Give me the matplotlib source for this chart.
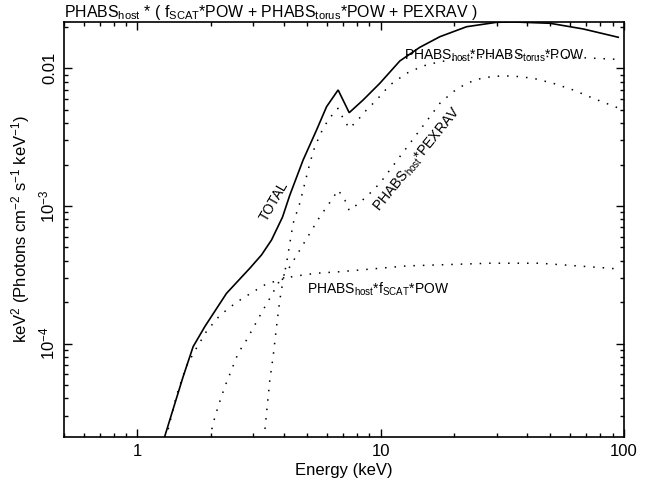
import matplotlib
matplotlib.use("Agg")
import matplotlib.pyplot as plt
from matplotlib.ticker import FuncFormatter, LogLocator

plt.rcParams["font.family"] = ["Liberation Sans", "DejaVu Sans"]
plt.rcParams["mathtext.fontset"] = "custom"
plt.rcParams["mathtext.rm"] = "Liberation Sans"
plt.rcParams["mathtext.it"] = "Liberation Sans:italic"
plt.rcParams["mathtext.bf"] = "Liberation Sans:bold"

# model components, E in keV, nuFnu in keV^2 (Photons cm^-2 s^-1 keV^-1)
total_e = [1.287, 1.541, 1.694, 1.892, 2.324, 2.898, 3.238, 3.559, 3.95, 4.234, 4.803,
           5.453, 5.996, 6.69, 7.43, 8.48, 9.93, 12.0, 14.5, 17.54, 22.59, 30.02,
           35.13, 49.75, 68.2, 95.0]
total_f = [2.05e-5, 5.76e-5, 9.51e-5, 1.33e-4, 2.32e-4, 3.53e-4, 4.41e-4, 5.66e-4, 8.3e-4,
           1.2e-3, 2.16e-3, 3.56e-3, 5.26e-3, 6.96e-3, 4.76e-3, 5.89e-3, 7.78e-3, 1.13e-2,
           1.42e-2, 1.696e-2, 2.004e-2, 2.158e-2, 2.17e-2, 2.123e-2, 1.93e-2, 1.68e-2]

torus_e = [3.319, 3.395, 3.503, 3.614, 3.733, 3.851, 3.974, 4.104, 4.234, 4.369, 4.655,
           4.88, 5.117, 5.366, 5.717, 6.085, 6.486, 6.69, 7.016, 7.43, 7.966, 8.618,
           9.627, 10.92, 12.79, 14.97, 17.54, 22.59, 30.0, 35.0, 47.4, 70.4, 95.0]
torus_f = [2.05e-5, 3.12e-5, 5.45e-5, 8.04e-5, 1.33e-4, 2.08e-4, 2.9e-4, 3.84e-4, 5.36e-4,
           7.49e-4, 1.051e-3, 1.462e-3, 2.04e-3, 2.7e-3, 3.46e-3, 4.21e-3, 4.84e-3,
           5.12e-3, 4.33e-3, 3.67e-3, 4.1e-3, 4.84e-3, 5.89e-3, 7.56e-3, 9.2e-3, 1.04e-2,
           1.117e-2, 1.19e-2, 1.23e-2, 1.245e-2, 1.22e-2, 1.19e-2, 1.16e-2]

pexrav_e = [1.984, 2.047, 2.146, 2.287, 2.437, 2.594, 2.81, 3.039, 3.287, 3.503, 3.789,
            4.234, 4.655, 5.117, 5.626, 6.085, 6.486, 6.69, 7.13, 7.43, 7.966, 8.757,
            9.93, 10.92, 12.0, 13.2, 14.51, 15.96, 17.54, 19.9, 22.59, 26.44, 30.97,
            35.13, 42.46, 51.3, 62.0, 75.0, 92.1, 95.0]
pexrav_f = [2.05e-5, 2.64e-5, 3.49e-5, 4.87e-5, 6.44e-5, 8.52e-5, 1.064e-4, 1.367e-4,
            1.757e-4, 2.137e-4, 2.745e-4, 3.62e-4, 4.79e-4, 6.33e-4, 8.36e-4, 1.017e-3,
            1.202e-3, 1.307e-3, 1.105e-3, 9.28e-4, 1.017e-3, 1.168e-3, 1.462e-3, 1.826e-3,
            2.28e-3, 2.85e-3, 3.56e-3, 4.45e-3, 5.57e-3, 6.76e-3, 7.78e-3, 8.55e-3,
            8.79e-3, 8.79e-3, 8.46e-3, 7.78e-3, 6.96e-3, 6.05e-3, 5.26e-3, 5.15e-3]

scat_e = [1.31, 1.447, 1.591, 1.749, 1.923, 2.146, 2.36, 2.636, 2.99, 3.395, 3.851, 4.369,
          5.453, 6.8, 12.79, 28.2, 45.2, 87.8, 95.0]
scat_f = [2.05e-5, 4.2e-5, 6.9e-5, 9.3e-5, 1.23e-4, 1.55e-4, 1.8e-4, 2.07e-4, 2.38e-4,
          2.72e-4, 2.9e-4, 3.08e-4, 3.25e-4, 3.33e-4, 3.67e-4, 3.84e-4, 3.84e-4, 3.53e-4,
          3.48e-4]

y_tick_text = {1e-2: "0.01", 1e-3: r"$10^{-3}$", 1e-4: r"$10^{-4}$"}
x_tick_text = {1: "1", 10: "10", 100: "100"}

fig = plt.figure(figsize=(6.56, 4.86), dpi=100)
ax = fig.add_axes([0.098, 0.1014, 0.8527, 0.8533])

dotted = (0, (1, 5.2))
ax.plot(total_e, total_f, color="black", lw=1.2, solid_joinstyle="miter")
ax.plot(torus_e, torus_f, color="black", lw=1.1, linestyle=dotted)
ax.plot(pexrav_e, pexrav_f, color="black", lw=1.1, linestyle=dotted)
ax.plot(scat_e, scat_f, color="black", lw=1.1, linestyle=dotted)

ax.set_xscale("log")
ax.set_yscale("log")
ax.set_xlim(0.5, 100)
ax.set_ylim(2.11e-5, 0.02168)

ax.xaxis.set_major_locator(LogLocator(base=10))
ax.yaxis.set_major_locator(LogLocator(base=10))
ax.xaxis.set_major_formatter(FuncFormatter(lambda v, p: x_tick_text.get(round(v, 6), "")))
ax.yaxis.set_major_formatter(FuncFormatter(lambda v, p: y_tick_text.get(round(v, 8), "")))
ax.tick_params(which="both", direction="in", top=True, right=True, width=1.0)
ax.tick_params(which="major", length=5.5, labelsize=12, pad=5)
ax.tick_params(which="minor", length=2.8)
ax.tick_params(axis="y", labelrotation=90)
for lab in ax.get_yticklabels():
    lab.set_verticalalignment("center")
for sp in ax.spines.values():
    sp.set_linewidth(1.2)

ax.set_xlabel("Energy (keV)", fontsize=12, labelpad=3)
ax.set_ylabel(r"keV$^2$ (Photons cm$^{-2}$ s$^{-1}$ keV$^{-1}$)", fontsize=12, labelpad=4)
ax.set_title(r"PHABS$_{\mathrm{host}}$ * ( f$_{\mathrm{SCAT}}$*POW + PHABS$_{\mathrm{torus}}$*POW + PEXRAV )",
             loc="left", fontsize=11.4, pad=2.5)

ax.text(3.656, 1.087e-3, "TOTAL", rotation=60, fontsize=10, ha="center", va="center",
        rotation_mode="anchor")
ax.text(14.2, 2.16e-3, r"PHABS$_{\mathrm{host}}$*PEXRAV", rotation=51, fontsize=10,
        ha="center", va="center", rotation_mode="anchor")
ax.text(12.47, 1.149e-2, r"PHABS$_{\mathrm{host}}$*PHABS$_{\mathrm{torus}}$*POW", fontsize=10,
        ha="left", va="baseline")
ax.text(5.0, 2.3e-4, r"PHABS$_{\mathrm{host}}$*f$_{\mathrm{SCAT}}$*POW", fontsize=10,
        ha="left", va="baseline")

fig.savefig("out.png", dpi=100)
